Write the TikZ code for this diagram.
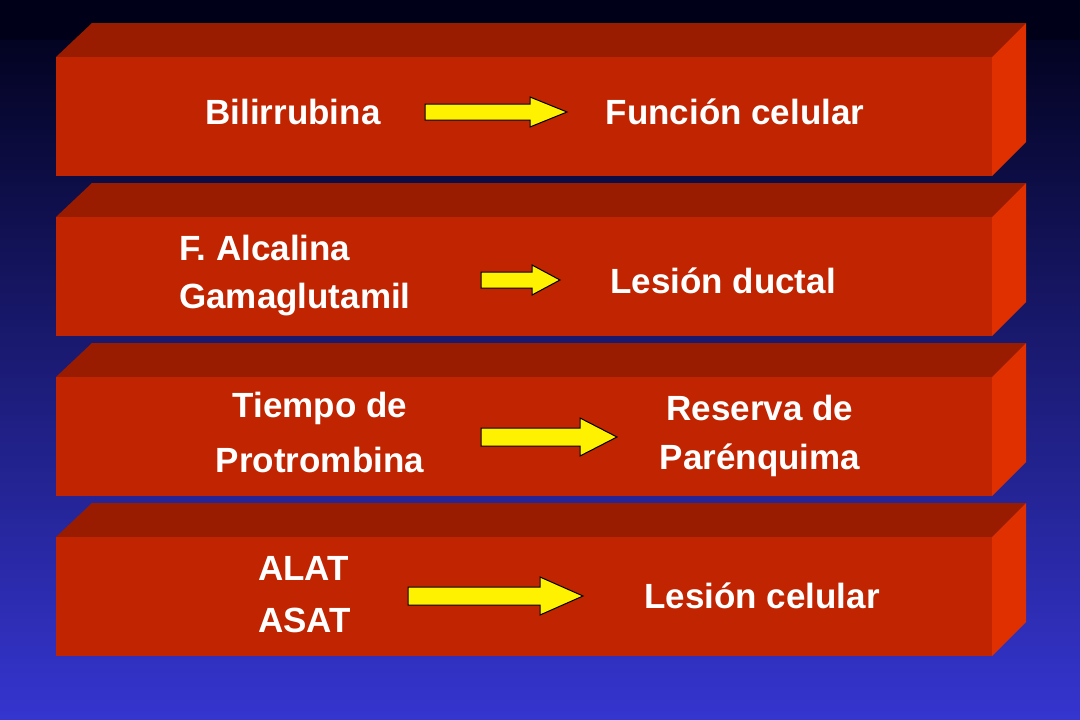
\documentclass[tikz,border=0pt]{standalone}
\usepackage{fontspec}
\setmainfont{Liberation Sans}
\definecolor{front}{HTML}{C02400}
\definecolor{topf}{HTML}{9A1C00}
\definecolor{side}{HTML}{E03000}
\definecolor{bgtop}{HTML}{000018}
\definecolor{bgbot}{HTML}{3535D0}
\tikzset{lbl/.style={text=white,font=\fontsize{35}{40}\selectfont\bfseries,inner sep=0pt},
 yarr/.style={fill=yellow,draw=black,line width=1pt,line join=miter}}
\newcommand{\slab}[1]{% top y of front face
 \fill[topf] (56,#1) -- (92,#1-34) -- (1026,#1-34) -- (992,#1) -- cycle;
 \fill[side] (992,#1) -- (1026,#1-34) -- (1026,#1+85) -- (992,#1+119) -- cycle;
 \fill[front] (56,#1) rectangle (992,#1+119);}
\newcommand{\yarrow}[6]{% x1, xs, xh, yc, shaft half, head half
 \draw[yarr] (#1,#4-#5) -- (#2,#4-#5) -- (#2,#4-#6) -- (#3,#4) -- (#2,#4+#6) -- (#2,#4+#5) -- (#1,#4+#5) -- cycle;}
\begin{document}
\begin{tikzpicture}[x=1pt,y=-1pt]
\useasboundingbox (0,0) rectangle (1080,720);
\shade[top color=bgtop,bottom color=bgbot] (0,0) rectangle (1080,720);
\fill[bgtop] (0,0) rectangle (1080,40);
\slab{57}\slab{217}\slab{377}\slab{537}
\yarrow{425}{530}{567}{112}{8}{15}
\yarrow{481}{532}{560}{280}{8}{15}
\yarrow{481}{580}{617}{437}{9}{19}
\yarrow{408}{540}{583}{596}{9}{19}
\node[lbl] (a1) at (293,112) {Bilirrubina};
\node[lbl] (b1) at (735,112) {Función celular};
\node[lbl,anchor=west] (a2) at (179,248) {F. Alcalina};
\node[lbl,anchor=west] (a2b) at (179,300) {Gamaglutamil};
\node[lbl] (b2) at (723,281) {Lesión ductal};
\node[lbl] (a3) at (320,408) {Tiempo de};
\node[lbl] (a3b) at (320,460) {Protrombina};
\node[lbl] (b3) at (760,408) {Reserva de};
\node[lbl] (b3b) at (760,460) {Parénquima};
\node[lbl,anchor=west] (a4) at (258,568) {ALAT};
\node[lbl,anchor=west] (a4b) at (258,620) {ASAT};
\node[lbl] (b4) at (762,596) {Lesión celular};
\end{tikzpicture}
\end{document}
